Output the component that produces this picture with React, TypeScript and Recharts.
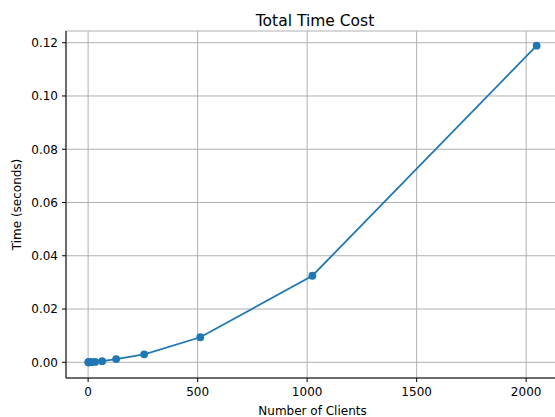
import React from "react";
import {
  LineChart,
  Line,
  XAxis,
  YAxis,
  CartesianGrid,
} from "recharts";

const clients = [1, 2, 4, 8, 16, 32, 64, 128, 256, 512, 1024, 2048];
const timeCost = [
  0.000005, 0.00001, 0.00001, 0.00003, 0.00006, 0.00015, 0.0004, 0.0012,
  0.003, 0.0094, 0.0325, 0.1189,
];
const xTicks = [0, 500, 1000, 1500, 2000];
const yTicks = [0, 0.02, 0.04, 0.06, 0.08, 0.1, 0.12];
const chartTitle = "Total Time Cost";

const data = clients.map((c, i) => ({ clients: c, time: timeCost[i] }));

const FONT = "DejaVu Sans, sans-serif";

export default function App() {
  return (
    <div
      style={{
        position: "absolute",
        left: 0,
        top: 0,
        width: 555,
        height: 417,
        overflow: "hidden",
        background: "#fff",
      }}
    >
      <LineChart
        width={570}
        height={417}
        data={data}
        margin={{ top: 31, right: 11, left: 0, bottom: 0 }}
        style={{ position: "absolute", left: 0, top: 0 }}
      >
        <CartesianGrid stroke="#b0b0b0" strokeWidth={1} />
        <XAxis
          dataKey="clients"
          type="number"
          domain={[-101, 2150]}
          ticks={xTicks}
          allowDataOverflow
          height={39}
          tickSize={4}
          tickMargin={5}
          axisLine={{ stroke: "#000", strokeWidth: 1 }}
          tickLine={{ stroke: "#000", strokeWidth: 1 }}
          tick={{ fill: "#000", fontFamily: FONT, fontSize: 12 }}
          label={{
            content: (props: any) => {
              const vb = props.viewBox || {};
              return (
                <text
                  x={312.5}
                  y={vb.y + 33}
                  textAnchor="middle"
                  dominantBaseline="central"
                  fontFamily={FONT}
                  fontSize={12}
                  fill="#000"
                >
                  Number of Clients
                </text>
              );
            },
          }}
        />
        <XAxis
          xAxisId="top"
          orientation="top"
          dataKey="clients"
          type="number"
          domain={[-101, 2150]}
          height={0}
          tick={false}
          tickLine={false}
          axisLine={{ stroke: "#000", strokeWidth: 1 }}
        />
        <YAxis
          type="number"
          domain={[-0.0059, 0.1244]}
          ticks={yTicks}
          allowDataOverflow
          width={66}
          tickSize={4}
          tickMargin={4}
          tickFormatter={(v: number) => v.toFixed(2)}
          axisLine={{ stroke: "#000", strokeWidth: 1 }}
          tickLine={{ stroke: "#000", strokeWidth: 1 }}
          tick={{ fill: "#000", fontFamily: FONT, fontSize: 12 }}
          label={{
            content: (props: any) => {
              const vb = props.viewBox || {};
              const cy = vb.y + vb.height / 2;
              return (
                <text
                  x={17}
                  y={cy}
                  transform={`rotate(-90, 17, ${cy})`}
                  textAnchor="middle"
                  dominantBaseline="central"
                  fontFamily={FONT}
                  fontSize={12}
                  fill="#000"
                >
                  Time (seconds)
                </text>
              );
            },
          }}
        />
        <Line
          type="linear"
          dataKey="time"
          stroke="#1f77b4"
          strokeWidth={1.8}
          dot={{ r: 3.9, fill: "#1f77b4", stroke: "#1f77b4", strokeWidth: 0 }}
          activeDot={false}
          isAnimationActive={false}
        />
      </LineChart>
      <svg
        width={555}
        height={30}
        style={{ position: "absolute", left: 0, top: 0, pointerEvents: "none" }}
      >
        <text
          x={315}
          y={25.5}
          textAnchor="middle"
          fontFamily={FONT}
          fontSize={15.5}
          fill="#000"
        >
          {chartTitle}
        </text>
      </svg>
    </div>
  );
}
